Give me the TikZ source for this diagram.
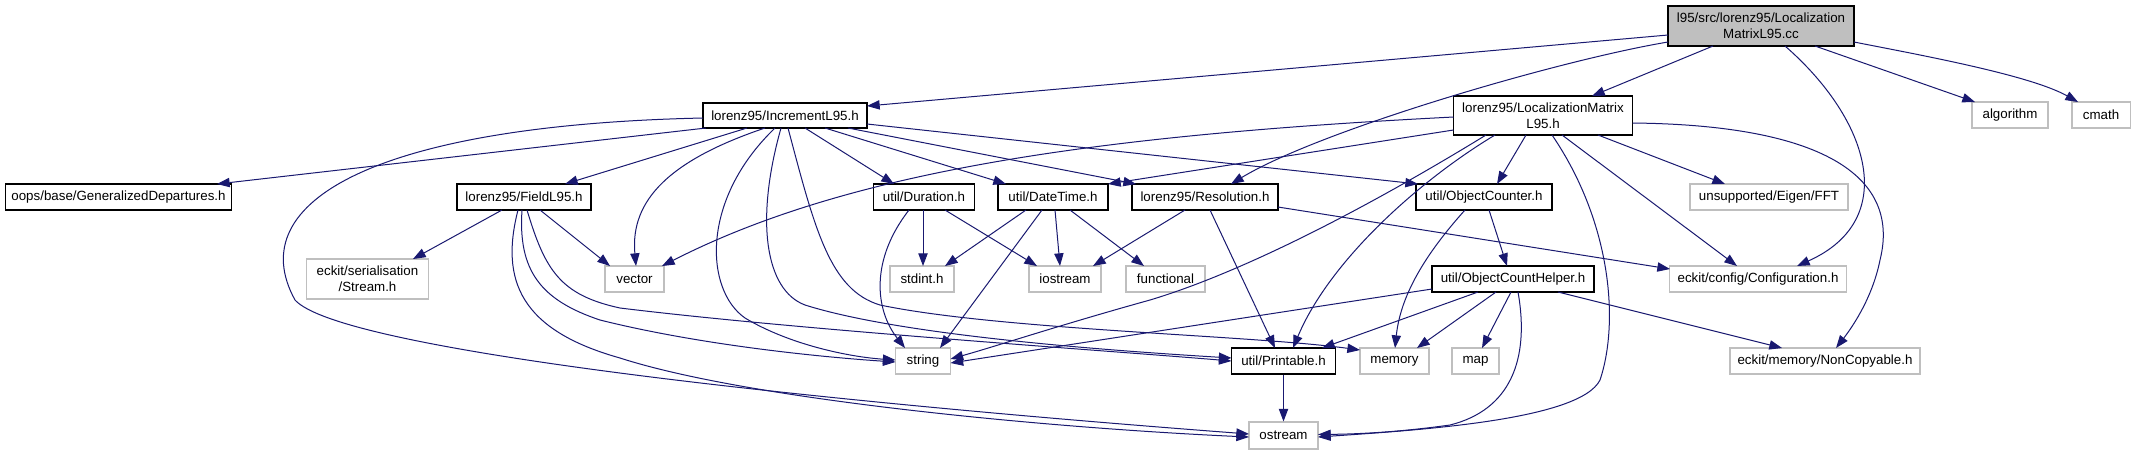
\documentclass[tikz,border=0pt]{standalone}
\usepackage{fontspec}
\setmainfont{Liberation Sans}
\usetikzlibrary{arrows.meta,calc}
\definecolor{edgeblue}{HTML}{191970}
\definecolor{boxgrey}{HTML}{BFBFBF}
\begin{document}
\begin{tikzpicture}[x=0.75pt,y=-0.75pt,
  every node/.style={font=\fontsize{10}{12}\selectfont, inner sep=0pt, align=center},
  wh/.style 2 args={minimum width=#1*0.75pt, minimum height=#2*0.75pt},
  doc/.style={draw=black, fill=white, line width=0.8pt},
  sys/.style={draw=boxgrey, fill=white, line width=0.8pt},
  root/.style={draw=black, fill=boxgrey, line width=0.8pt},
  dep/.style={draw=edgeblue, line width=0.75pt, -{Triangle[length=9.5pt,width=7pt]}},
]
\useasboundingbox (0,0) rectangle (2136,455);
\fill[white] (0,0) rectangle (2136,455);

% nodes
\node[root, wh={186}{40}] (main) at (1761,26) {l95/src/lorenz95/Localization\\MatrixL95.cc};
\node[doc, wh={164}{25}] (inc) at (785,115.5) {lorenz95/IncrementL95.h};
\node[doc, wh={179}{39}] (loc) at (1543,115.5) {lorenz95/LocalizationMatrix\\L95.h};
\node[sys, wh={76}{26}] (alg) at (2010,115) {algorithm};
\node[sys, wh={58}{26}] (cmath) at (2101,115) {cmath};
\node[doc, wh={226}{26}] (gen) at (118.5,197) {oops/base/GeneralizedDepartures.h};
\node[doc, wh={134}{26}] (field) at (524,197) {lorenz95/FieldL95.h};
\node[doc, wh={101}{26}] (dur) at (924,197) {util/Duration.h};
\node[doc, wh={110}{26}] (dt) at (1053,197) {util/DateTime.h};
\node[doc, wh={146}{26}] (res) at (1205,197) {lorenz95/Resolution.h};
\node[doc, wh={136}{26}] (oc) at (1484,197) {util/ObjectCounter.h};
\node[sys, wh={158}{26}] (fft) at (1769,197) {unsupported/Eigen/FFT};
\node[sys, wh={122}{40}] (stream) at (367.5,279) {eckit/serialisation\\/Stream.h};
\node[sys, wh={59}{26}] (vector) at (634.5,279) {vector};
\node[sys, wh={64}{26}] (stdint) at (922,279) {stdint.h};
\node[sys, wh={72}{26}] (iostream) at (1065,279) {iostream};
\node[sys, wh={79}{26}] (functional) at (1165.5,279) {functional};
\node[doc, wh={162}{26}] (och) at (1513,279) {util/ObjectCountHelper.h};
\node[sys, wh={177}{26}] (conf) at (1758,279) {eckit/config/Configuration.h};
\node[sys, wh={55}{26}] (string) at (923,361) {string};
\node[doc, wh={104}{26}] (print) at (1283.5,361) {util/Printable.h};
\node[sys, wh={69}{26}] (memory) at (1394.5,361) {memory};
\node[sys, wh={47}{26}] (map) at (1475.5,361) {map};
\node[sys, wh={190}{26}] (noncopy) at (1825,361) {eckit/memory/NonCopyable.h};
\node[sys, wh={69}{27}] (ostream) at (1283.5,435.5) {ostream};

% edges from main
\draw[dep] ($(main)+(-93,9)$) -- ($(inc)+(82,-9.5)$);
\draw[dep] ($(main)+(-93,16)$) .. controls (1560,60) and (1320,130) .. ($(res)+(26,-13)$);
\draw[dep] ($(main)+(-48,20)$) -- ($(loc)+(49,-19.5)$);
\draw[dep] ($(main)+(24,20)$) .. controls (1870,120) and (1900,220) .. ($(conf)+(39,-13)$);
\draw[dep] ($(main)+(54,20)$) -- ($(alg)+(-35,-13)$);
\draw[dep] ($(main)+(93,16)$) .. controls (1920,55) and (2030,75) .. ($(cmath)+(-23,-13)$);

% edges from IncrementL95.h
\draw[dep] ($(inc)+(-79,12.5)$) -- ($(gen)+(98.5,-13)$);
\draw[dep] ($(inc)+(-38,12.5)$) -- ($(field)+(41,-13)$);
\draw[dep] ($(inc)+(-82,2.5)$) .. controls (380,125) and (240,200) .. (295,300) .. controls (340,350) and (800,400) .. ($(ostream)+(-34.5,-1.5)$);
\draw[dep] ($(inc)+(-20,12.5)$) .. controls (670,160) and (630,200) .. ($(vector)+(1.5,-13)$);
\draw[dep] ($(inc)+(-10,12.5)$) .. controls (700,200) and (705,290) .. (745,318) .. controls (790,345) and (850,357) .. ($(string)+(-27.5,-1)$);
\draw[dep] ($(inc)+(-4,12.5)$) .. controls (755,220) and (765,290) .. (805,305) .. controls (900,335) and (1100,350) .. ($(print)+(-52,-3)$);
\draw[dep] ($(inc)+(3,12.5)$) .. controls (815,230) and (830,290) .. (880,305) .. controls (1000,330) and (1250,335) .. ($(memory)+(-34.5,-11)$);
\draw[dep] ($(inc)+(20,12.5)$) -- ($(dur)+(-30,-13)$);
\draw[dep] ($(inc)+(40,12.5)$) -- ($(dt)+(-47,-13)$);
\draw[dep] ($(inc)+(63,12.5)$) -- ($(res)+(-69,-13)$);
\draw[dep] ($(inc)+(82,8.5)$) -- ($(oc)+(-66,-13)$);

% edges from LocalizationMatrixL95.h
\draw[dep] ($(loc)+(-89.5,1.5)$) .. controls (1100,135) and (850,170) .. ($(vector)+(27.5,-13)$);
\draw[dep] ($(loc)+(-89.5,14.5)$) -- ($(dt)+(55,-13)$);
\draw[dep] ($(loc)+(-57,19.5)$) .. controls (1380,200) and (1250,270) .. (1150,300) .. controls (1060,325) and (1000,345) .. ($(string)+(27.5,-2)$);
\draw[dep] ($(loc)+(-48,19.5)$) .. controls (1420,180) and (1330,260) .. ($(print)+(9.5,-13)$);
\draw[dep] ($(loc)+(-17,19.5)$) -- ($(oc)+(13,-13)$);
\draw[dep] ($(loc)+(9,19.5)$) .. controls (1610,220) and (1620,320) .. (1600,380) .. controls (1580,420) and (1420,430) .. ($(ostream)+(34.5,1.5)$);
\draw[dep] ($(loc)+(19,19.5)$) -- ($(conf)+(-21,-13)$);
\draw[dep] ($(loc)+(55,19.5)$) -- ($(fft)+(-44,-13)$);
\draw[dep] ($(loc)+(89.5,7.5)$) .. controls (1830,125) and (1900,180) .. (1880,260) .. controls (1872,300) and (1850,330) .. ($(noncopy)+(11,-13)$);

% edges from FieldL95.h
\draw[dep] ($(field)+(-22,13)$) -- ($(stream)+(45.5,-20)$);
\draw[dep] ($(field)+(16,13)$) -- ($(vector)+(-24.5,-13)$);
\draw[dep] ($(field)+(-2,13)$) .. controls (518,270) and (540,300) .. (600,320) .. controls (700,345) and (820,357) .. ($(string)+(-27.5,1)$);
\draw[dep] ($(field)+(3,13)$) .. controls (545,270) and (560,295) .. (620,308) .. controls (800,330) and (1100,350) .. ($(print)+(-52,0)$);
\draw[dep] ($(field)+(-6,13)$) .. controls (500,280) and (520,330) .. (620,358) .. controls (750,400) and (1050,428) .. ($(ostream)+(-34.5,1.5)$);

% edges from Duration.h
\draw[dep] ($(dur)+(-1,13)$) -- ($(stdint)+(1,-13)$);
\draw[dep] ($(dur)+(21,13)$) -- ($(iostream)+(-28,-13)$);
\draw[dep] ($(dur)+(-15,13)$) .. controls (870,260) and (875,310) .. ($(string)+(-18,-13)$);

% edges from DateTime.h
\draw[dep] ($(dt)+(-27,13)$) -- ($(stdint)+(23,-13)$);
\draw[dep] ($(dt)+(2,13)$) -- ($(iostream)+(-5,-13)$);
\draw[dep] ($(dt)+(17,13)$) -- ($(functional)+(-21.5,-13)$);
\draw[dep] ($(dt)+(-11,13)$) -- ($(string)+(17,-13)$);

% edges from Resolution.h
\draw[dep] ($(res)+(-20,13)$) -- ($(iostream)+(28,-13)$);
\draw[dep] ($(res)+(5,13)$) -- ($(print)+(-8.5,-13)$);
\draw[dep] ($(res)+(73,10)$) -- ($(conf)+(-88,-10)$);

% edges from ObjectCounter.h
\draw[dep] ($(oc)+(-19,13)$) .. controls (1420,260) and (1400,300) .. ($(memory)+(0.5,-13)$);
\draw[dep] ($(oc)+(5,13)$) -- ($(och)+(-6,-13)$);

% edges from ObjectCountHelper.h
\draw[dep] ($(och)+(-81,10)$) -- ($(string)+(27.5,2)$);
\draw[dep] ($(och)+(-35,13)$) -- ($(print)+(38.5,-13)$);
\draw[dep] ($(och)+(-17,13)$) -- ($(memory)+(22.5,-13)$);
\draw[dep] ($(och)+(-2,13)$) -- ($(map)+(6.5,-13)$);
\draw[dep] ($(och)+(5,13)$) .. controls (1530,360) and (1510,410) .. (1450,425) .. controls (1400,432) and (1360,434) .. ($(ostream)+(34.5,-1)$);
\draw[dep] ($(och)+(45,13)$) -- ($(noncopy)+(-43,-13)$);

% Printable.h
\draw[dep] (print.south) -- (ostream.north);
\end{tikzpicture}
\end{document}
